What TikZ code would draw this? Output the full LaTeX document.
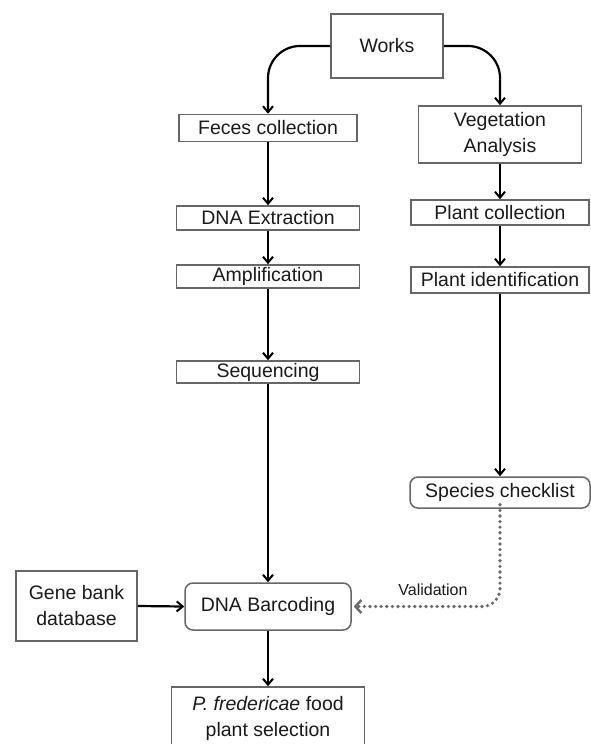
\documentclass[tikz,border=0pt]{standalone}
\usepackage{fontspec}
\setmainfont{Liberation Sans}
\usetikzlibrary{arrows.meta}
\definecolor{boxline}{HTML}{666666}
\definecolor{txt}{HTML}{1A1A1A}
\definecolor{dotc}{HTML}{6A6A6A}
\begin{document}
\begin{tikzpicture}[x=1pt,y=-1pt,
  every node/.style={font=\fontsize{19.5}{26}\selectfont, text=txt},
  sqbox/.style={draw=boxline, line width=1.5pt, rectangle, inner sep=0pt, align=center},
  rbox/.style={sqbox, rounded corners=8pt},
  arr/.style={line width=2.2pt, black, -{Straight Barb[length=6pt,width=10pt,line width=2pt]}},
  dotarr/.style={line width=3.6pt, dotc, line cap=round, dash pattern=on 0pt off 5.6pt,
     -{Straight Barb[length=6pt,width=13pt,line width=2.4pt]}}]
\useasboundingbox (0,0) rectangle (591,744);
\fill[white] (0,0) rectangle (591,744);

\node[sqbox, minimum width=112pt, minimum height=64pt] (works) at (387,46) {Works};
\node[sqbox, minimum width=178pt, minimum height=27pt] (feces) at (268,128) {Feces collection};
\node[sqbox, minimum width=163pt, minimum height=57pt] (veg) at (500,134.5) {Vegetation\\Analysis};
\node[sqbox, minimum width=183pt, minimum height=24pt] (dnaext) at (268,218) {DNA Extraction};
\node[sqbox, minimum width=183pt, minimum height=23pt] (ampl) at (268,276.5) {Amplification};
\node[sqbox, minimum width=183pt, minimum height=22pt] (seq) at (268,372) {Sequencing};
\node[sqbox, minimum width=178pt, minimum height=25pt] (plantcol) at (500,212.5) {Plant collection};
\node[sqbox, minimum width=178pt, minimum height=26pt] (plantid) at (500,280) {Plant identification};
\node[rbox, minimum width=180pt, minimum height=31pt] (species) at (500,492.5) {Species checklist};
\node[sqbox, minimum width=121pt, minimum height=70pt] (gene) at (76.5,606) {Gene bank\\database};
\node[rbox, minimum width=166pt, minimum height=47pt] (barcode) at (268,606.5) {DNA Barcoding};
\node[sqbox, minimum width=193pt, minimum height=62pt] (pfred) at (268,718) {\textit{P. fredericae} food\\plant selection};
\node[font=\fontsize{16}{18}\selectfont] (valid) at (433,590) {Validation};

\draw[arr, rounded corners=32pt] (works.west) -| (feces.north);
\draw[arr, rounded corners=32pt] (works.east) -| (veg.north);
\draw[arr] (feces.south) -- (dnaext.north);
\draw[arr] (dnaext.south) -- (ampl.north);
\draw[arr] (ampl.south) -- (seq.north);
\draw[arr] (seq.south) -- (barcode.north);
\draw[arr] (veg.south) -- (plantcol.north);
\draw[arr] (plantcol.south) -- (plantid.north);
\draw[arr] (plantid.south) -- (species.north);
\draw[arr] (gene.east) -- (barcode.west);
\draw[arr] (barcode.south) -- (pfred.north);
\draw[dotarr, rounded corners=18pt] ([yshift=4pt]species.south) |- ([xshift=2pt]barcode.east);
\end{tikzpicture}
\end{document}
